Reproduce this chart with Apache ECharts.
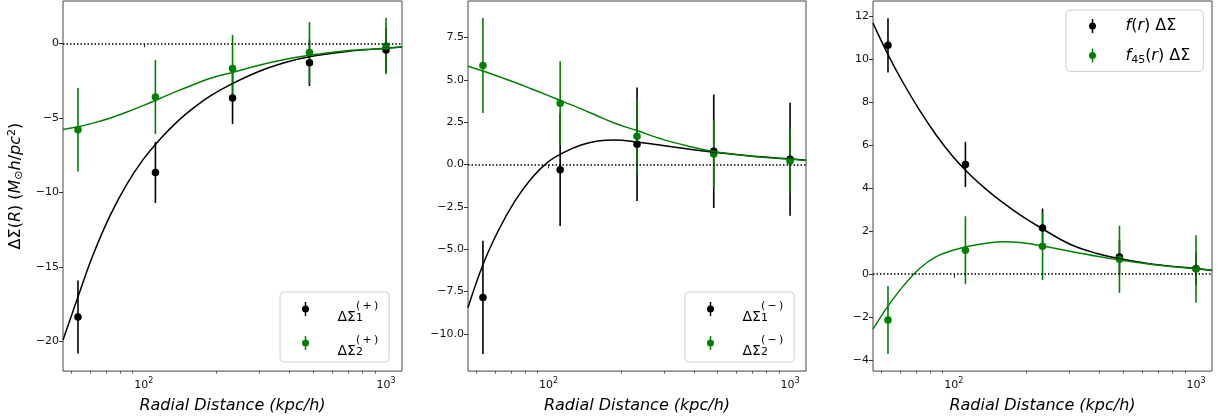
<!DOCTYPE html>
<html>
<head>
<meta charset="utf-8">
<script src="https://cdn.jsdelivr.net/npm/echarts@6/dist/echarts.min.js"></script>
<style>
    html, body { margin: 0; padding: 0; background: #fff; }
    #charts { width: 1217px; height: 420px; }
</style>
</head>
<body>
<div id="charts"></div>
<script>
// radial bins (kpc/h)
var radius = [53.5, 111.7, 232.5, 483, 1000];
var fitRadius = [46.4, 53.5, 61.7, 72.3, 84.7, 99.3, 116.4, 136.5, 160, 187, 232, 302, 390, 483, 690, 1000, 1164];

// panel 1 : (+)
var plus1 = [-18.35, -8.66, -3.66, -1.30, -0.45];
var plus1Err = [2.45, 2.05, 1.75, 1.56, 1.5];
var plus2 = [-5.8, -3.6, -1.68, -0.62, -0.18];
var plus2Err = [2.8, 2.48, 2.25, 2.05, 1.9];
var plus1Fit = [-19.9, -17.0, -14.2, -11.6, -9.5, -7.8, -6.45, -5.3, -4.35, -3.55, -2.7, -1.85, -1.25, -0.9, -0.55, -0.33, -0.24];
var plus2Fit = [-5.78, -5.6, -5.35, -5.02, -4.62, -4.18, -3.7, -3.22, -2.78, -2.36, -1.95, -1.45, -1.05, -0.8, -0.5, -0.33, -0.23];

// panel 2 : (-)
var minus1 = [-7.85, -0.31, 1.19, 0.78, 0.31];
var minus1Err = [3.34, 3.32, 3.35, 3.35, 3.34];
var minus2 = [5.84, 3.61, 1.66, 0.61, 0.2];
var minus2Err = [2.8, 2.48, 2.25, 2.05, 1.9];
var minus1Fit = [-8.45, -5.92, -3.96, -2.2, -0.84, 0.14, 0.73, 1.15, 1.38, 1.45, 1.33, 1.1, 0.88, 0.72, 0.5, 0.33, 0.25];
var minus2Fit = [5.8, 5.515, 5.21, 4.85, 4.47, 4.08, 3.68, 3.28, 2.86, 2.45, 2.0, 1.45, 1.04, 0.76, 0.49, 0.31, 0.24];

// panel 3 : f(r), f45(r)
var fr = [10.63, 5.09, 2.14, 0.79, 0.25];
var frErr = [1.26, 1.05, 0.9, 0.8, 0.75];
var f45 = [-2.14, 1.1, 1.29, 0.68, 0.23];
var f45Err = [1.58, 1.58, 1.57, 1.56, 1.57];
var frFit = [11.66, 10.2, 8.9, 7.6, 6.45, 5.45, 4.62, 3.92, 3.3, 2.76, 2.1, 1.38, 0.95, 0.71, 0.42, 0.25, 0.16];
var f45Fit = [-2.57, -1.5, -0.58, 0.25, 0.8, 1.1, 1.3, 1.43, 1.49, 1.46, 1.3, 1.05, 0.82, 0.65, 0.41, 0.24, 0.17];

// ticks
var xMajorTicks = [100, 1000];
var xMinorTicks = [50, 60, 70, 80, 90, 200, 300, 400, 500, 600, 700, 800, 900];
var yTicks1 = [-20, -15, -10, -5, 0];
var yTicks2 = [-10, -7.5, -5, -2.5, 0, 2.5, 5, 7.5];
var yTicks3 = [-4, -2, 0, 2, 4, 6, 8, 10, 12];

var legendNames = ['ΔΣ1(+)', 'ΔΣ2(+)', 'ΔΣ1(−)', 'ΔΣ2(−)', 'f(r)ΔΣ', 'f45(r)ΔΣ'];
var xName = 'Radial Distance (kpc/h)';

var FONT = 'DejaVu Sans';
var GREEN = '#008000';
var X_MIN = 46.4, X_MAX = 1164;
var LEGEND_ICON = 'path://M3.25,0h1.5v14h-1.5z M0.5,7A3.5,3.5 0 1,1 7.5,7A3.5,3.5 0 1,1 0.5,7z';

var legendRich = {};
legendRich[legendNames[0]] = '{g| }{b|ΔΣ}{sb|1}{sp|(\u2009+\u2009)}';
legendRich[legendNames[1]] = '{g| }{b|ΔΣ}{sb|2}{sp|(\u2009+\u2009)}';
legendRich[legendNames[2]] = '{g| }{b|ΔΣ}{sb|1}{sp|(\u2009\u2212\u2009)}';
legendRich[legendNames[3]] = '{g| }{b|ΔΣ}{sb|2}{sp|(\u2009\u2212\u2009)}';
legendRich[legendNames[4]] = '{g| }{i|f}{b|(}{i|r}{b|) ΔΣ}';
legendRich[legendNames[5]] = '{g| }{i|f}{sb|45}{b|(}{i|r}{b|) ΔΣ}';

var panels = [
    {left: 63, width: 339, yMin: -21.98, yMax: 2.84, yTicks: yTicks1, dec: 0,
        black: plus1, blackErr: plus1Err, blackFit: plus1Fit,
        green: plus2, greenErr: plus2Err, greenFit: plus2Fit,
        names: [legendNames[0], legendNames[1]], legendLeft: 280, legendTop: 292},
    {left: 468, width: 338, yMin: -12.2, yMax: 9.65, yTicks: yTicks2, dec: 1,
        black: minus1, blackErr: minus1Err, blackFit: minus1Fit,
        green: minus2, greenErr: minus2Err, greenFit: minus2Fit,
        names: [legendNames[2], legendNames[3]], legendLeft: 685, legendTop: 292},
    {left: 873, width: 339, yMin: -4.52, yMax: 12.69, yTicks: yTicks3, dec: 0,
        black: fr, blackErr: frErr, blackFit: frFit,
        green: f45, greenErr: f45Err, greenFit: f45Fit,
        names: [legendNames[4], legendNames[5]], legendLeft: 1066, legendTop: 10}
];

function yLabel(dec) {
    return function (v) {
        var s = Math.abs(v).toFixed(dec);
        return (v < -1e-9 ? '\u2212' : '') + s;
    };
}

function errBars(name, xi, yi, ys, errs, color) {
    return {
        type: 'custom',
        name: name,
        xAxisIndex: xi,
        yAxisIndex: yi,
        silent: true,
        data: radius.map(function (r, k) { return [r, ys[k], errs[k]]; }),
        encode: {x: 0, y: 1},
        renderItem: function (params, api) {
            var lo = api.coord([api.value(0), api.value(1) - api.value(2)]);
            var hi = api.coord([api.value(0), api.value(1) + api.value(2)]);
            return {
                type: 'line',
                shape: {x1: lo[0], y1: lo[1], x2: hi[0], y2: hi[1]},
                style: {stroke: color, lineWidth: 1.6}
            };
        }
    };
}

function points(name, xi, yi, ys, color) {
    return {
        type: 'scatter',
        name: name,
        xAxisIndex: xi,
        yAxisIndex: yi,
        symbol: 'circle',
        symbolSize: 7.5,
        itemStyle: {color: color, opacity: 1},
        silent: true,
        data: radius.map(function (r, k) { return [r, ys[k]]; })
    };
}

function fitLine(name, xi, yi, ys, color, zero) {
    var s = {
        type: 'line',
        name: name,
        xAxisIndex: xi,
        yAxisIndex: yi,
        showSymbol: false,
        smooth: 0.4,
        silent: true,
        lineStyle: {color: color, width: 1.5},
        itemStyle: {color: color},
        data: fitRadius.map(function (r, k) { return [r, ys[k]]; })
    };
    if (zero) {
        s.markLine = {
            silent: true,
            symbol: ['none', 'none'],
            label: {show: false},
            lineStyle: {color: '#000', type: [1.5, 2], width: 1.5},
            data: [{yAxis: 0}]
        };
    }
    return s;
}

var grids = [], xAxes = [], yAxes = [], series = [], legends = [];

panels.forEach(function (p, i) {
    grids.push({
        left: p.left, top: 1, width: p.width, height: 373,
        show: true, borderColor: '#444', borderWidth: 1, backgroundColor: 'transparent'
    });

    xAxes.push({
        type: 'log', logBase: 10, gridIndex: i, position: 'bottom', min: X_MIN, max: X_MAX,
        axisLine: {show: false},
        splitLine: {show: false},
        axisTick: {show: true, length: 4, customValues: xMajorTicks, lineStyle: {color: '#333', width: 1}},
        axisLabel: {
            customValues: xMajorTicks,
            margin: 6,
            formatter: function (v) {
                var e = Math.log(v) / Math.LN10;
                if (Math.abs(e - Math.round(e)) > 0.001) return '';
                return '{b|10}{p|' + Math.round(e) + '}';
            },
            rich: {
                b: {fontFamily: FONT, fontSize: 11, color: '#111', lineHeight: 14, verticalAlign: 'bottom'},
                p: {fontFamily: FONT, fontSize: 8, color: '#111', lineHeight: 8, verticalAlign: 'top'}
            }
        },
        name: xName,
        nameLocation: 'middle',
        nameGap: 22,
        nameTextStyle: {fontFamily: FONT, fontSize: 16, fontStyle: 'italic', color: '#000', lineHeight: 19}
    });
    xAxes.push({
        type: 'log', logBase: 10, gridIndex: i, position: 'bottom', min: X_MIN, max: X_MAX,
        axisLine: {show: false},
        splitLine: {show: false},
        axisTick: {show: true, length: 2.5, customValues: xMinorTicks, lineStyle: {color: '#333', width: 0.8}},
        axisLabel: {show: false}
    });

    var yAxis = {
        type: 'value', gridIndex: i, min: p.yMin, max: p.yMax,
        axisLine: {show: false},
        splitLine: {show: false},
        axisTick: {show: true, length: 4, customValues: p.yTicks, lineStyle: {color: '#333', width: 1}},
        axisLabel: {
            customValues: p.yTicks,
            margin: 4,
            fontFamily: FONT, fontSize: 11, color: '#111',
            formatter: yLabel(p.dec)
        }
    };
    if (i === 0) {
        yAxis.name = '{b|ΔΣ(}{i|R}{b|) (}{i|M}{sb|⊙}{i|h}{b|/}{i|pc}{sp|2}{b|)}';
        yAxis.nameLocation = 'middle';
        yAxis.nameRotate = 90;
        yAxis.nameGap = 38;
        yAxis.nameTextStyle = {
            rich: {
                b: {fontFamily: FONT, fontSize: 16, color: '#000', lineHeight: 18, verticalAlign: 'middle'},
                i: {fontFamily: FONT, fontSize: 16, fontStyle: 'italic', color: '#000', lineHeight: 18, verticalAlign: 'middle'},
                sp: {fontFamily: FONT, fontSize: 11, color: '#000', lineHeight: 11, verticalAlign: 'top'},
                sb: {fontFamily: FONT, fontSize: 11, color: '#000', lineHeight: 11, verticalAlign: 'bottom'}
            }
        };
    }
    yAxes.push(yAxis);

    var xi = 2 * i;
    series.push(errBars(p.names[0] + ' err', xi, i, p.black, p.blackErr, '#000'));
    series.push(points(p.names[0], xi, i, p.black, '#000'));
    series.push(errBars(p.names[1] + ' err', xi, i, p.green, p.greenErr, GREEN));
    series.push(points(p.names[1], xi, i, p.green, GREEN));
    series.push(fitLine(p.names[0] + ' fit', xi, i, p.blackFit, '#000', true));
    series.push(fitLine(p.names[1] + ' fit', xi, i, p.greenFit, GREEN, false));

    var big = i < 2;
    legends.push({
        orient: 'vertical',
        left: p.legendLeft,
        top: p.legendTop,
        padding: big ? [9, 11, 4, 22] : [8, 13, 6, 23],
        itemGap: big ? 11 : 13.5,
        itemWidth: 8,
        itemHeight: 14,
        selectedMode: false,
        backgroundColor: 'rgba(255,255,255,0.8)',
        borderColor: '#d0d0d0',
        borderWidth: 1,
        borderRadius: 4,
        data: p.names.map(function (n) { return {name: n, icon: LEGEND_ICON}; }),
        formatter: function (n) { return legendRich[n]; },
        textStyle: {
            rich: big ? {
                g: {width: 23, fontSize: 14, lineHeight: 30},
                b: {fontFamily: FONT, fontSize: 14, color: '#000', verticalAlign: 'bottom'},
                sp: {fontFamily: FONT, fontSize: 11, color: '#000', verticalAlign: 'top', padding: [7, 0, 0, 0]},
                sb: {fontFamily: FONT, fontSize: 11, color: '#000', verticalAlign: 'bottom', width: 0.1}
            } : {
                g: {width: 24, fontSize: 16, lineHeight: 20},
                b: {fontFamily: FONT, fontSize: 16, color: '#000', lineHeight: 20},
                i: {fontFamily: FONT, fontSize: 16, fontStyle: 'italic', color: '#000', lineHeight: 20},
                sb: {fontFamily: FONT, fontSize: 11, color: '#000', lineHeight: 12, verticalAlign: 'bottom'}
            }
        }
    });
});

var chart = echarts.init(document.getElementById('charts'));
chart.setOption({
    animation: false,
    backgroundColor: '#fff',
    textStyle: {fontFamily: FONT},
    grid: grids,
    xAxis: xAxes,
    yAxis: yAxes,
    legend: legends,
    series: series
});
</script>
</body>
</html>
